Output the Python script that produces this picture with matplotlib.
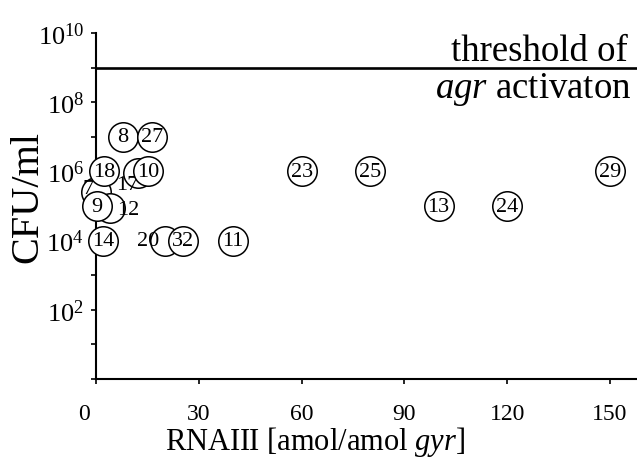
import matplotlib
matplotlib.use('Agg')
import numpy as np
import matplotlib.pyplot as plt
import matplotlib.transforms as mtransforms
from matplotlib.ticker import FixedLocator, FixedFormatter, NullLocator

plt.rcParams['font.family'] = ['Liberation Serif', 'DejaVu Serif']
plt.rcParams['mathtext.fontset'] = 'custom'
plt.rcParams['mathtext.rm'] = 'Liberation Serif'
plt.rcParams['mathtext.it'] = 'Liberation Serif:italic'

# ---- data (drawing order: back to front) ----
strain_labels = ['7', '17', '12', '20', '9', '14', '18', '10', '8', '27',
                 '32', '11', '23', '25', '13', '24', '29']
rnaiii = [0.0, 12.3, 4.1, 20.1, 0.3, 2.0, 2.3, 15.2, 7.8, 16.3,
          25.4, 40, 60, 80, 100, 120, 150]
cfu = [2.5e5, 9e5, 8.8e4, 1e4, 1e5, 1e4, 1e6, 1e6, 1e7, 1e7,
       1e4, 1e4, 1e6, 1e6, 1e5, 1e5, 1e6]
threshold_cfu = 1e9
x_ticks = [0, 30, 60, 90, 120, 150]
x_tick_labels = ['0', '30', '60', '90', '120', '150']
y_exponents = list(range(0, 11))
y_tick_labels = ['' if (e % 2 or e == 0) else '$10^{%d}$' % e for e in y_exponents]

# label offsets (points) for labels printed beside their circle
label_offsets = {'7': (-6.0, 3.0), '17': (-7.9, -8.6), '12': (13.0, -1.4), '20': (-12.2, 0.0)}

fig = plt.figure(figsize=(6.37, 4.60), dpi=100)
ax = fig.add_axes([96 / 637, 80 / 460, 541 / 637, 346 / 460])
ax.set_yscale('log')
ax.set_xlim(0, 157.9)
ax.set_ylim(1, 1e10)

for i, (x, y, lab) in enumerate(zip(rnaiii, cfu, strain_labels)):
    z = 3 + 2 * i
    ax.scatter([x], [y], s=450, facecolor='white', edgecolor='black',
               linewidth=1.1, zorder=z, clip_on=False)
    dx, dy = label_offsets.get(lab, (0, 0))
    ax.annotate(lab, xy=(x, y), xytext=(dx, dy), textcoords='offset points',
                ha='center', va='center', fontsize=16, zorder=z + 1,
                annotation_clip=False)

ax.axhline(threshold_cfu, color='black', lw=1.9, zorder=2)
ytr = ax.get_yaxis_transform()
ax.annotate('threshold of', xy=(1, threshold_cfu), xycoords=ytr,
            xytext=(-6.5, 5.5), textcoords='offset points',
            ha='right', va='baseline', fontsize=26.5)
ax.annotate('$\\mathit{agr}$ activaton', xy=(1, threshold_cfu), xycoords=ytr,
            xytext=(-4.0, -21), textcoords='offset points',
            ha='right', va='baseline', fontsize=26.5)

for s in ['top', 'right']:
    ax.spines[s].set_visible(False)
for s in ['left', 'bottom']:
    ax.spines[s].set_linewidth(1.5)

ax.xaxis.set_major_locator(FixedLocator(x_ticks))
ax.xaxis.set_major_formatter(FixedFormatter(x_tick_labels))
ax.yaxis.set_major_locator(FixedLocator([10.0 ** e for e in y_exponents]))
ax.yaxis.set_major_formatter(FixedFormatter(y_tick_labels))
ax.yaxis.set_minor_locator(NullLocator())
ax.xaxis.set_minor_locator(NullLocator())
ax.tick_params(axis='x', direction='out', length=3.6, width=1.2, labelsize=17, pad=14)
ax.tick_params(axis='y', direction='out', length=3.6, width=1.2, labelsize=19, pad=5)

ax.set_xlabel('RNAIII [amol/amol $\\mathit{gyr}$]', fontsize=22)
ax.xaxis.set_label_coords(0.405, -0.131)
ax.set_ylabel('CFU/ml', fontsize=29)
ax.yaxis.set_label_coords(-0.092, 0.53)

fig.canvas.draw()
lbl0 = ax.get_xticklabels()[0]
lbl0.set_transform(lbl0.get_transform() +
                   mtransforms.ScaledTranslation(-0.12, 0, fig.dpi_scale_trans))

fig.savefig('out.png', dpi=100)
